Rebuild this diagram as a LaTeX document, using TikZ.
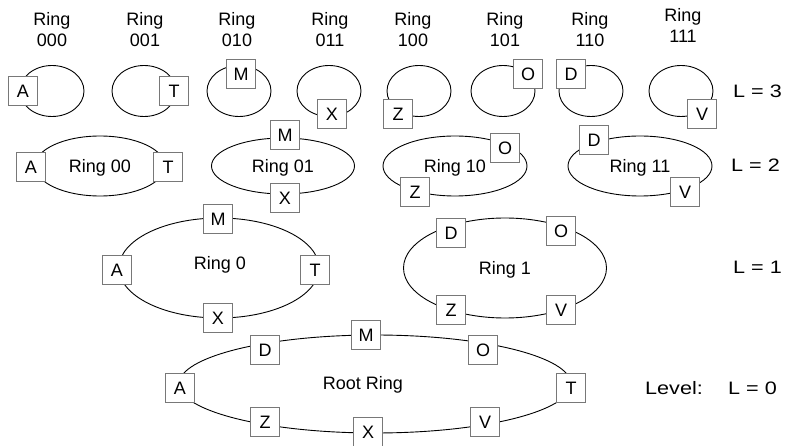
\documentclass[tikz,border=0pt]{standalone}
\usepackage{fontspec}
\setmainfont{Liberation Sans}
\usetikzlibrary{shapes.geometric,positioning}
\usepackage{xcolor}
\definecolor{boxline}{RGB}{120,120,120}
\newcommand{\wide}[1]{\scalebox{1.2}[1]{#1}}

\begin{document}
\begin{tikzpicture}[
    x=1pt, y=-1pt,
    every node/.style={font=\fontsize{18}{21}\selectfont, inner sep=0pt,
      text height=13pt, text depth=0pt},
    ring/.style={ellipse, draw=black, line width=0.9pt},
    peer/.style={rectangle, draw=boxline, fill=white, line width=0.8pt,
      minimum size=29pt},
    level/.style={anchor=west},
  ]
  \useasboundingbox (0,0) rectangle (785,446);

  % --- Level 3: eight small rings with their titles ---
  \foreach \name/\x/\lx/\ly in {000/52/52/19, 001/144/145/19, 010/239/237/19,
      011/329/330/19, 100/419/413/19, 101/503/505/19, 110/591/590/19,
      111/681/683/15} {
    \node[ring, minimum width=64pt, minimum height=51pt] (r\name) at (\x,91) {};
    \node (t\name) at (\lx,\ly) {Ring};
    \node[below=8pt of t\name] (n\name) {\name};
  }
  \node[peer] (r000A) at (23,91) {A};
  \node[peer] (r001T) at (174,91) {T};
  \node[peer] (r010M) at (241,74) {M};
  \node[peer] (r011X) at (332,114) {X};
  \node[peer] (r100Z) at (398,114) {Z};
  \node[peer] (r101O) at (528,74) {O};
  \node[peer] (r110D) at (571,74) {D};
  \node[peer] (r111V) at (702,114) {V};

  % --- Level 2 ---
  \node[ring, minimum width=130pt, minimum height=60pt] (r00) at (100,166) {Ring 00};
  \node[ring, minimum width=143pt, minimum height=56pt] (r01) at (283,166) {Ring 01};
  \node[ring, minimum width=144pt, minimum height=60pt] (r10) at (455,166) {Ring 10};
  \node[ring, minimum width=144pt, minimum height=60pt] (r11) at (640,166) {Ring 11};
  \node[peer] (r00A) at (31,167) {A};
  \node[peer] (r00T) at (168,167) {T};
  \node[peer] (r01M) at (285,135) {M};
  \node[peer] (r01X) at (285,198) {X};
  \node[peer] (r10O) at (505,148) {O};
  \node[peer] (r10Z) at (415,192) {Z};
  \node[peer] (r11D) at (594,140) {D};
  \node[peer] (r11V) at (685,192) {V};

  % --- Level 1 ---
  \node[ring, minimum width=200pt, minimum height=100pt] (r0) at (219,268) {};
  \node (t0) at (220,263) {Ring 0};
  \node[ring, minimum width=203pt, minimum height=100pt] (r1) at (505,268) {Ring 1};
  \node[peer] (r0M) at (218,219) {M};
  \node[peer] (r0A) at (117,270) {A};
  \node[peer] (r0T) at (315,270) {T};
  \node[peer] (r0X) at (218,318) {X};
  \node[peer] (r1D) at (451,233) {D};
  \node[peer] (r1O) at (561,231) {O};
  \node[peer] (r1Z) at (451,310) {Z};
  \node[peer] (r1V) at (561,310) {V};

  % --- Level 0: root ring ---
  \node[ring, minimum width=392pt, minimum height=98pt] (root) at (375,384) {};
  \node (troot) at (363,383) {Root Ring};
  \node[peer] (rootA) at (180,388) {A};
  \node[peer] (rootD) at (265,350) {D};
  \node[peer] (rootM) at (366,335) {M};
  \node[peer] (rootO) at (483,350) {O};
  \node[peer] (rootT) at (571,388) {T};
  \node[peer] (rootZ) at (265,422) {Z};
  \node[peer] (rootX) at (368,432) {X};
  \node[peer] (rootV) at (485,422) {V};

  % --- Level labels ---
  \node[level] (L3) at (733,91) {\wide{L = 3}};
  \node[level] (L2) at (731,165) {\wide{L = 2}};
  \node[level] (L1) at (733,267) {\wide{L = 1}};
  \node[level] (L0) at (728,388) {\wide{L = 0}};
  \node[level] (lvl) at (645,388) {\wide{Level:}};

\end{tikzpicture}
\end{document}
